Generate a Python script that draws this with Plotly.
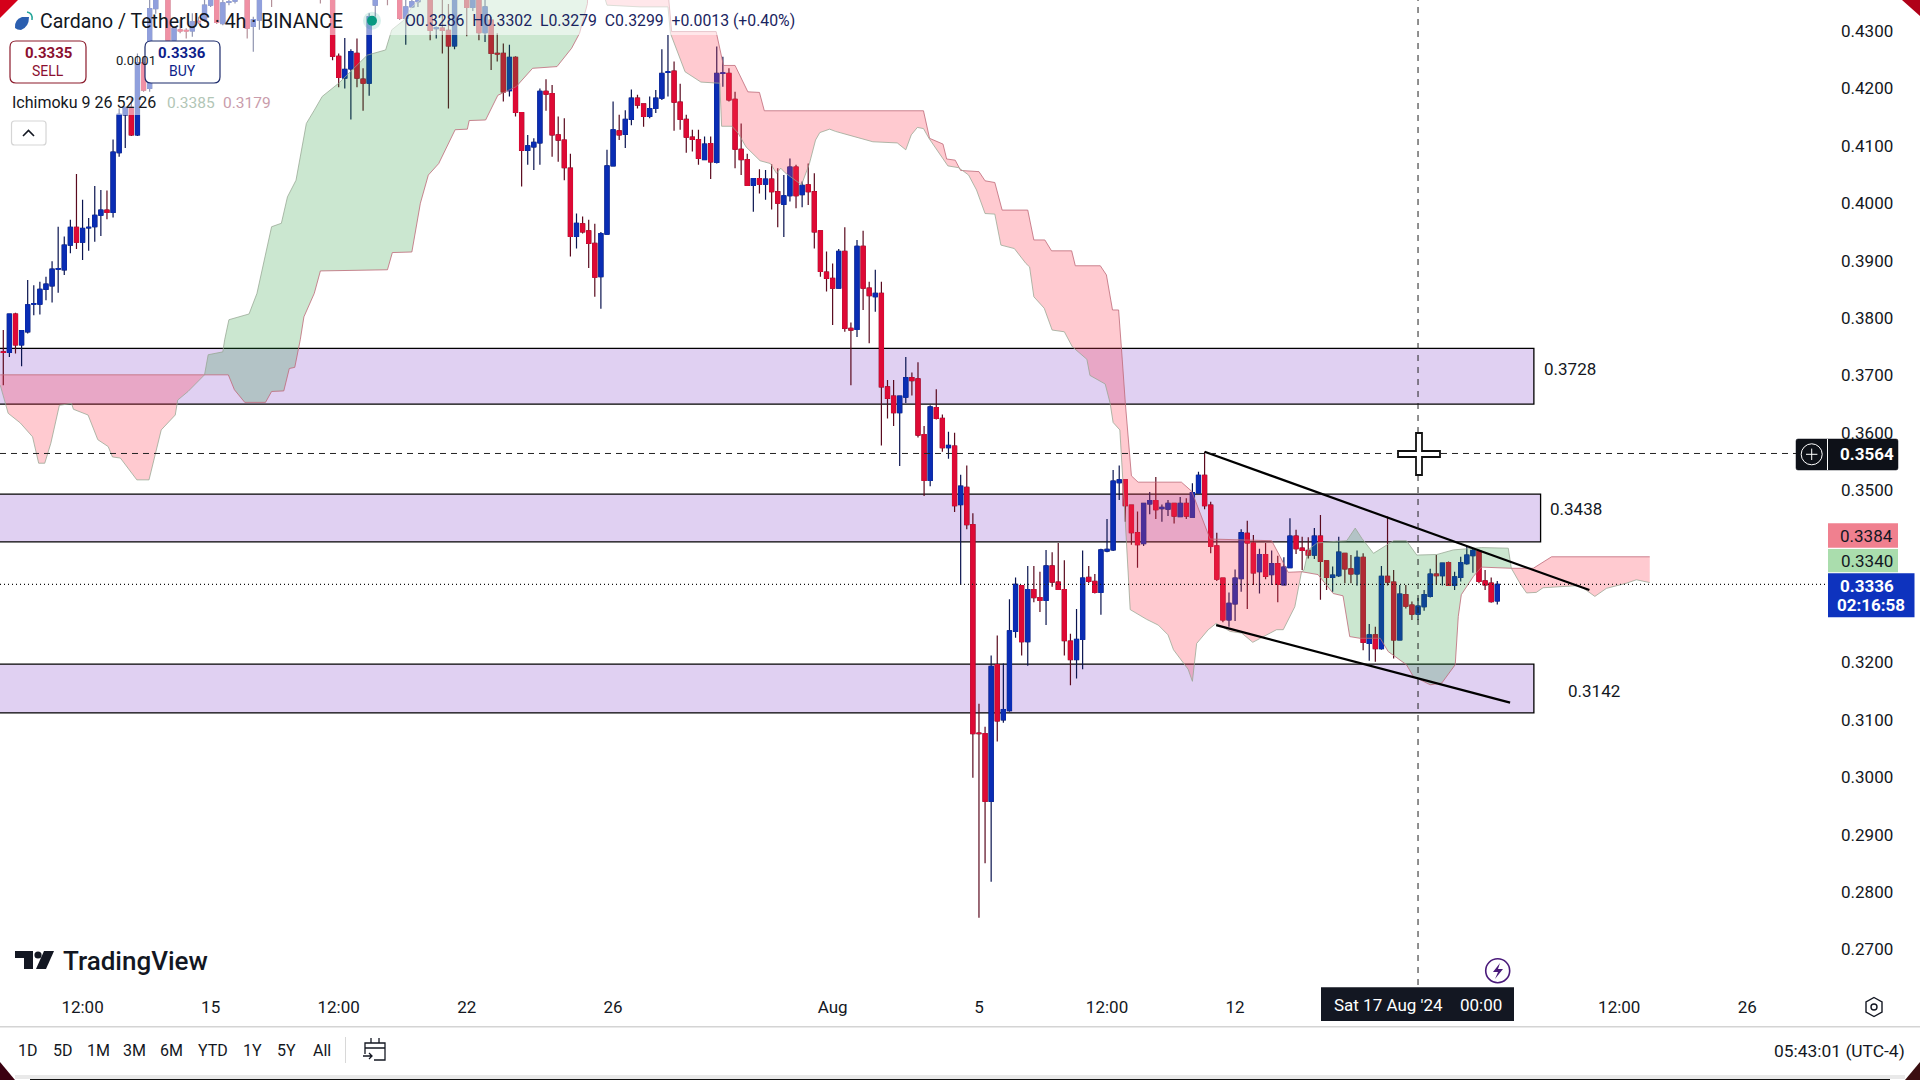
import re
import plotly.graph_objects as go

opens = [.3741,.3740,.3807,.3753,.3776,.3824,.3824,.3850,.3856,.3885,
.3884,.3927,.3958,.3932,.3957,.3959,.3979,.3988,.3984,.4088,
.4154,.4167,.4119,.4245,.4200,.4339,.4410,.4380,.4284,.4302,
.4301,.4300,.4317,.4319,.4345,.4365,.4313,.4350,.4352,.4390,
.4370,.4308,.4319,.4380,.4400,.4390,.4410,.4430,.4415,.4440,
.4425,.4410,.4395,.4380,.4395,.4256,.4218,.4234,.4261,.4216,
.4209,.4345,.4380,.4375,.4375,.4385,.4322,.4342,.4351,.4370,
.4385,.4304,.4305,.4301,.4274,.4375,.4365,.4341,.4365,.4297,
.4319,.4261,.4261,.4196,.4254,.4158,.4092,.4098,.4105,.4195,
.4191,.4119,.4110,.4061,.3942,.3964,.3952,.3930,.3872,.3946,
.4065,.4126,.4120,.4146,.4183,.4173,.4151,.4165,.4183,.4228,
.4230,.4176,.4146,.4115,.4111,.4076,.4104,.4071,.4226,.4226,
.4181,.4094,.4076,.4031,.4043,.4033,.4042,.4020,.3998,.4013,
.4063,.4015,.4032,.4020,.3952,.3880,.3869,.3852,.3916,.3782,
.3780,.3925,.3852,.3837,.3843,.3680,.3664,.3635,.3662,.3696,
.3694,.3597,.3517,.3644,.3625,.3574,.3577,.3475,.3505,.3440,
.3077,.3076,.2958,.3196,.3100,.3116,.3254,.3334,.3236,.3327,
.3313,.3308,.3368,.3340,.3327,.3237,.3205,.3240,.3348,.3341,
.3322,.3394,.3396,.3513,.3518,.3474,.3426,.3407,.3476,.3482,
.3468,.3467,.3477,.3454,.3477,.3453,.3495,.3526,.3474,.3403,
.3347,.3274,.3302,.3346,.3425,.3408,.3358,.3388,.3353,.3372,
.3335,.3365,.3420,.3399,.3395,.3387,.3420,.3377,.3348,.3351,
.3390,.3363,.3354,.3383,.3233,.3248,.3224,.3350,.3340,.3239,
.3318,.3300,.3284,.3297,.3315,.3354,.3351,.3374,.3334,.3348,
.3372,.3386,.3394,.3342,.3338,.3307]

highs = [.3779,.3808,.3809,.3779,.3866,.3857,.3863,.3872,.3899,.3959,
.3942,.3971,.4051,.4006,.3974,.4030,.4023,.4022,.4111,.4165,
.4168,.4183,.4261,.4255,.4360,.4395,.4430,.4400,.4308,.4320,
.4305,.4331,.4325,.4354,.4375,.4380,.4356,.4360,.4365,.4420,
.4390,.4325,.4370,.4410,.4420,.4425,.4440,.4445,.4455,.4460,
.4445,.4425,.4410,.4405,.4410,.4261,.4288,.4268,.4287,.4235,
.4331,.4380,.4400,.4390,.4395,.4395,.4360,.4360,.4370,.4400,
.4400,.4308,.4360,.4347,.4375,.4390,.4375,.4370,.4375,.4360,
.4325,.4296,.4278,.4276,.4256,.4158,.4119,.4113,.4200,.4216,
.4206,.4151,.4148,.4086,.3982,.3977,.3971,.3964,.3950,.4093,
.4177,.4154,.4162,.4198,.4189,.4174,.4186,.4197,.4268,.4293,
.4247,.4208,.4154,.4128,.4128,.4116,.4116,.4273,.4255,.4235,
.4194,.4139,.4086,.4043,.4059,.4058,.4068,.4061,.4049,.4078,
.4067,.4038,.4069,.4052,.3952,.3916,.3895,.3920,.3958,.3792,
.3936,.3952,.3863,.3884,.3863,.3692,.3692,.3665,.3732,.3705,
.3723,.3612,.3648,.3676,.3632,.3602,.3600,.3527,.3543,.3460,
.3128,.3088,.3212,.3247,.3198,.3310,.3348,.3335,.3368,.3368,
.3358,.3396,.3392,.3408,.3378,.3250,.3293,.3395,.3368,.3354,
.3398,.3450,.3535,.3543,.3518,.3474,.3463,.3478,.3497,.3523,
.3475,.3483,.3477,.3488,.3486,.3512,.3532,.3567,.3480,.3426,
.3347,.3322,.3362,.3432,.3447,.3422,.3398,.3408,.3395,.3386,
.3383,.3451,.3431,.3419,.3418,.3434,.3457,.3377,.3367,.3419,
.3391,.3387,.3395,.3390,.3267,.3262,.3368,.3454,.3361,.3335,
.3335,.3306,.3312,.3326,.3363,.3387,.3373,.3376,.3358,.3384,
.3401,.3399,.3394,.3361,.3348,.3342]

lows = [.3683,.3732,.3738,.3716,.3773,.3805,.3806,.3831,.3827,.3844,
.3875,.3913,.3920,.3901,.3917,.3933,.3943,.3972,.3975,.4081,
.4096,.4117,.4117,.4194,.4194,.4330,.4365,.4281,.4279,.4296,
.4287,.4290,.4312,.4316,.4342,.4312,.4310,.4345,.4348,.4370,
.4287,.4264,.4302,.4365,.4342,.4370,.4395,.4400,.4405,.4410,
.4395,.4380,.4348,.4370,.4249,.4202,.4200,.4146,.4202,.4161,
.4187,.4325,.4362,.4345,.4365,.4319,.4276,.4340,.4342,.4360,
.4284,.4287,.4261,.4165,.4268,.4358,.4291,.4335,.4284,.4281,
.4232,.4247,.4177,.4186,.4151,.4029,.4067,.4058,.4067,.4161,
.4081,.4072,.4040,.3907,.3921,.3947,.3887,.3837,.3816,.3945,
.4064,.4110,.4096,.4136,.4165,.4133,.4148,.4157,.4180,.4186,
.4126,.4128,.4088,.4090,.4067,.4075,.4042,.4069,.4203,.4177,
.4061,.4049,.4030,.3985,.4017,.4006,.3989,.3958,.3941,.4003,
.3991,.3993,.3997,.3921,.3872,.3846,.3788,.3852,.3776,.3683,
.3767,.3814,.3756,.3811,.3578,.3625,.3612,.3542,.3652,.3665,
.3592,.3490,.3507,.3623,.3567,.3555,.3462,.3335,.3432,.2999,
.2755,.2850,.2818,.3062,.3095,.3114,.3243,.3212,.3194,.3305,
.3288,.3265,.3332,.3327,.3212,.3160,.3172,.3188,.3338,.3320,
.3283,.3392,.3394,.3483,.3445,.3405,.3365,.3403,.3458,.3450,
.3445,.3455,.3442,.3454,.3450,.3452,.3495,.3467,.3390,.3342,
.3270,.3262,.3272,.3323,.3293,.3335,.3320,.3345,.3335,.3305,
.3334,.3364,.3389,.3361,.3381,.3380,.3309,.3326,.3323,.3349,
.3338,.3338,.3334,.3221,.3203,.3201,.3222,.3334,.3207,.3238,
.3294,.3274,.3274,.3290,.3313,.3335,.3334,.3334,.3326,.3341,
.3370,.3356,.3338,.3326,.3304,.3301]

closes = [.3740,.3807,.3753,.3778,.3823,.3825,.3850,.3859,.3885,.3886,
.3927,.3958,.3932,.3956,.3958,.3979,.3988,.3984,.4089,.4155,
.4167,.4119,.4245,.4197,.4339,.4380,.4380,.4284,.4305,.4300,
.4300,.4316,.4316,.4345,.4360,.4315,.4349,.4351,.4353,.4380,
.4305,.4320,.4360,.4400,.4380,.4410,.4430,.4415,.4440,.4425,
.4410,.4395,.4380,.4395,.4256,.4219,.4233,.4264,.4218,.4209,
.4325,.4365,.4370,.4360,.4385,.4322,.4342,.4351,.4358,.4385,
.4301,.4306,.4301,.4274,.4365,.4365,.4341,.4360,.4297,.4342,
.4261,.4260,.4194,.4254,.4158,.4092,.4100,.4106,.4195,.4190,
.4119,.4110,.4062,.3942,.3965,.3950,.3930,.3871,.3947,.4065,
.4128,.4119,.4146,.4183,.4171,.4151,.4165,.4183,.4226,.4229,
.4176,.4146,.4115,.4111,.4078,.4103,.4072,.4226,.4227,.4180,
.4094,.4076,.4031,.4043,.4033,.4042,.4020,.4000,.4013,.4063,
.4013,.4031,.4020,.3950,.3881,.3869,.3852,.3916,.3782,.3779,
.3925,.3852,.3839,.3843,.3680,.3660,.3635,.3664,.3696,.3691,
.3596,.3517,.3645,.3625,.3574,.3578,.3473,.3507,.3440,.3076,
.3076,.2958,.3193,.3098,.3118,.3255,.3336,.3236,.3327,.3313,
.3308,.3368,.3340,.3327,.3238,.3205,.3240,.3347,.3341,.3322,
.3396,.3397,.3516,.3518,.3473,.3426,.3405,.3477,.3482,.3466,
.3470,.3477,.3455,.3477,.3455,.3496,.3526,.3473,.3402,.3345,
.3274,.3303,.3347,.3426,.3408,.3356,.3388,.3350,.3372,.3336,
.3366,.3420,.3398,.3395,.3387,.3420,.3376,.3348,.3352,.3392,
.3363,.3354,.3383,.3235,.3248,.3224,.3350,.3340,.3239,.3319,
.3298,.3284,.3298,.3318,.3354,.3351,.3373,.3334,.3349,.3374,
.3387,.3395,.3341,.3335,.3306,.3336]

bars = list(range(len(closes)))

tick_bars = [13, 34, 55, 76, 100, 136, 160, 181, 202, 265, 286]
tick_labels = ["12:00", "15", "12:00", "22", "26", "Aug", "5", "12:00", "12", "12:00", "26"]
price_ticks = [.43, .42, .41, .40, .39, .38, .37, .36, .35, .32, .31, .30, .29, .28, .27]

# Ichimoku cloud spans: bar position, price
red1_top_x = [-0.5, 33]
red1_top_y = [.3701, .3701]
red1_low_x = [-0.5,.46,.8,2.8,4.8,5.8,6.8,7.8,9.2,11.2,11.5,13.9,15.5,17.2,17.9,19.2,21.9,23.9,25.9,28.2,28.6,30.3,33]
red1_low_y = [.3683,.3648,.3634,.3617,.3593,.3547,.3547,.3582,.3648,.3651,.3641,.3631,.3588,.3576,.3558,.3556,.3518,.3518,.3605,.3631,.3657,.3672,.3701]

green1_top_x = [33,33.6,36,36.3,37,40.3,41.6,44,45.6,46.6,48,49.7,51,52.3,55,59.7,62.7,63.7,65.7,67,69.7,80,96]
green1_top_y = [.3701,.3736,.3741,.3762,.3797,.3807,.3843,.3959,.3965,.4011,.4040,.4139,.4162,.4186,.4209,.4258,.4267,.4302,.4319,.4342,.4366,.4450,.4450]
green1_low_x = [33,36.9,37.9,39.6,43,44,46,46.9,47.8,48.7,49.3,51,52,63,63.8,67,68.4,69.7,71.4,74.1,76.1,76.4,79.1,81.1,84.1,86.8,90.8,93.2,94.5,95.8,96]
green1_low_y = [.3701,.3701,.3675,.3653,.3653,.3672,.3673,.3712,.3714,.3762,.3802,.3843,.3882,.3884,.3914,.3915,.4000,.4049,.4069,.4128,.4129,.4144,.4145,.4188,.4203,.4235,.4238,.4270,.4296,.4348,.4450]

red2_top_x = [96,98,108,109,109.6,116.9,118.1,120,122.1,124,124.8,150.9,151.9,154.1,154.7,156.1,157,160,161,162.6,163.8,168,169,170.8,171.9,175.2,175.8,179.9,180.9,181.9,182.9,183.5,184,185,186.1,193.2,194.9,197.9,208,209.4,210.7,212.9]
red2_top_y = [.4450,.4450,.4450,.4370,.4299,.4299,.4240,.4240,.4194,.4193,.4161,.4161,.4113,.4103,.4077,.4075,.4057,.4055,.4039,.4036,.3988,.3988,.3936,.3936,.3917,.3917,.3891,.3891,.3875,.3814,.3814,.3727,.3652,.3525,.3514,.3514,.3498,.3415,.3412,.3384,.3357,.3358]
red2_low_x = [96,99,104.4,109,109.4,111.8,114.4,116.5,117.5,117.8,119.5,120.5,121.8,124.1,125.8,126.8,127.5,128.2,130.9,132.2,133.2,133.9,135.5,136.5,138.5,142.6,146.6,148,148.9,149.9,150.9,151.8,154.9,156.6,157.3,158.3,159.6,161,162.6,163.6,165.8,167.7,168.3,169,170.7,172,174,175.3,177.7,178.2,180.7,181.5,182,183.1,184,184.8,187.5,189.4,191,191.9,194.3,195,195.7,197.6,198.9,201.2,203.1,204.9,208.8,209.9,211.8,212.9]
red2_low_y = [.4450,.4345,.4342,.4342,.4296,.4229,.4211,.4209,.4209,.4134,.4134,.4122,.4098,.4074,.4069,.4052,.4061,.4053,.4032,.4069,.4110,.4123,.4129,.4125,.4119,.4107,.4105,.4093,.4119,.4132,.4130,.4113,.4065,.4062,.4057,.4049,.4023,.3982,.3981,.3927,.3921,.3895,.3889,.3837,.3817,.3779,.3776,.3750,.3728,.3700,.3685,.3652,.3618,.3605,.3445,.3292,.3275,.3265,.3248,.3222,.3188,.3167,.3233,.3257,.3268,.3254,.3251,.3235,.3257,.3257,.3297,.3358]

green2_top_x = [212.9,213.3,214,215.4,218.6,220.3,221.7,222.8,224.7,228,230.1,231.8,235.1,237.8,242.4,246.8,247.3]
green2_top_y = [.3358,.3361,.3396,.3408,.3411,.3412,.3434,.3416,.3390,.3412,.3412,.3387,.3388,.3396,.3400,.3399,.3364]
green2_low_x = [212.9,215.6,218.1,219.7,220.8,222.5,225.8,227.1,230.1,231.2,234,235.9,238.1,238.6,239.1,241.1,242.4,247.3]
green2_low_y = [.3358,.3353,.3320,.3316,.3245,.3242,.3242,.3219,.3196,.3176,.3161,.3164,.3196,.3280,.3318,.3350,.3366,.3364]

red3_top_x = [247.3,250.9,253.9,270]
red3_top_y = [.3364,.3364,.3384,.3384]
red3_low_x = [247.3,248.7,249.8,251.4,252.5,258.5,261,262.9,266.2,267.8,270]
red3_low_y = [.3364,.3338,.3321,.3322,.3330,.3334,.3315,.3329,.3338,.3344,.3339]

# Drawn zones: right-hand bar, top price, bottom price, label
zone_right = [251, 252.1, 251]
zone_top = [.3747, .3493, .3197]
zone_bottom = [.3650, .3410, .3112]
zone_labels = ["0.3728", "0.3438", "0.3142"]

# Trend lines
upper_trend_x = [197, 260.1]
upper_trend_y = [.3567, .3326]
lower_trend_x = [198.9, 247.1]
lower_trend_y = [.3265, .3130]

crosshair_bar = 232
crosshair_price = .3564
last_price = .3336

W, H = 1920, 1080
INK = "#131722"
FONT = "Roboto"


def X(p):
    return p / W


def Y(p):
    return 1 - p / H


def P(d):
    """Turn an SVG path written in page pixels into paper coordinates."""
    count = [0]

    def conv(m):
        v = float(m.group(0))
        count[0] += 1
        return f"{X(v):.5f}" if count[0] % 2 else f"{Y(v):.5f}"

    return re.sub(r"-?\d+\.?\d*", conv, d)


def path(d, fill=None, line=None, width=1.0):
    s = dict(type="path", xref="paper", yref="paper", path=P(d), layer="above",
             line=dict(color=line or "rgba(0,0,0,0)", width=width if line else 0))
    if fill:
        s["fillcolor"] = fill
    return s


def rect(x0, y0, x1, y1, fill=None, line=None, width=1.0, opacity=1):
    return dict(type="rect", xref="paper", yref="paper", x0=X(x0), x1=X(x1), y0=Y(y0), y1=Y(y1),
                layer="above", fillcolor=fill or "rgba(0,0,0,0)", opacity=opacity,
                line=dict(color=line or "rgba(0,0,0,0)", width=width if line else 0))


def circle(cx, cy, r, fill=None, line=None, width=1.0):
    return dict(type="circle", xref="paper", yref="paper", x0=X(cx - r), x1=X(cx + r), y0=Y(cy - r), y1=Y(cy + r),
                layer="above", fillcolor=fill or "rgba(0,0,0,0)",
                line=dict(color=line or "rgba(0,0,0,0)", width=width if line else 0))


def round_rect(x0, y0, x1, y1, r, fill, line, width=1.2):
    d = (f"M{x0 + r},{y0} L{x1 - r},{y0} Q{x1},{y0} {x1},{y0 + r} L{x1},{y1 - r} Q{x1},{y1} {x1 - r},{y1} "
         f"L{x0 + r},{y1} Q{x0},{y1} {x0},{y1 - r} L{x0},{y0 + r} Q{x0},{y0} {x0 + r},{y0} Z")
    return path(d, fill=fill, line=line, width=width)


def text(s, x, y, size=17, color=INK, anchor="left", weight="normal", family=FONT):
    return dict(text=s, x=X(x), y=Y(y), xref="paper", yref="paper", xanchor=anchor, yanchor="middle",
                showarrow=False, align=anchor, borderpad=0,
                font=dict(family=family, size=size, color=color, weight=weight))


RED_FILL = "rgba(255,60,80,0.27)"
GREEN_FILL = "rgba(30,150,50,0.23)"
SPAN_A = "rgba(150,165,145,0.75)"
SPAN_B = "rgba(190,105,120,0.8)"

fig = go.Figure()


def cloud(top_x, top_y, low_x, low_y, fill, top_col, low_col):
    fig.add_trace(go.Scatter(x=top_x + low_x[::-1], y=top_y + low_y[::-1], mode="lines", fill="toself",
                             fillcolor=fill, line=dict(width=0), hoverinfo="skip", showlegend=False))
    fig.add_trace(go.Scatter(x=top_x, y=top_y, mode="lines", line=dict(color=top_col, width=1),
                             hoverinfo="skip", showlegend=False))
    fig.add_trace(go.Scatter(x=low_x, y=low_y, mode="lines", line=dict(color=low_col, width=1),
                             hoverinfo="skip", showlegend=False))


cloud(red1_top_x, red1_top_y, red1_low_x, red1_low_y, RED_FILL, SPAN_B, SPAN_A)
cloud(green1_top_x, green1_top_y, green1_low_x, green1_low_y, GREEN_FILL, SPAN_A, SPAN_B)
cloud(red2_top_x, red2_top_y, red2_low_x, red2_low_y, RED_FILL, SPAN_B, SPAN_A)
cloud(green2_top_x, green2_top_y, green2_low_x, green2_low_y, GREEN_FILL, SPAN_A, SPAN_B)
cloud(red3_top_x, red3_top_y, red3_low_x, red3_low_y, RED_FILL, SPAN_B, SPAN_A)

# Wicks in a darker tone, bodies on top in the full colour
UP, DOWN = "#0A2DB4", "#DE0A35"
fig.add_trace(go.Candlestick(x=bars, open=opens, high=highs, low=lows, close=closes, whiskerwidth=0,
                             increasing=dict(line=dict(color="#0A1450", width=1.2), fillcolor=UP),
                             decreasing=dict(line=dict(color="#5A0A1E", width=1.2), fillcolor=DOWN),
                             hoverinfo="skip", showlegend=False))
fig.add_trace(go.Candlestick(x=bars, open=opens, close=closes,
                             high=[max(o, c) for o, c in zip(opens, closes)],
                             low=[min(o, c) for o, c in zip(opens, closes)], whiskerwidth=0,
                             increasing=dict(line=dict(color=UP, width=1), fillcolor=UP),
                             decreasing=dict(line=dict(color=DOWN, width=1), fillcolor=DOWN),
                             hoverinfo="skip", showlegend=False))

fig.add_trace(go.Scatter(x=upper_trend_x, y=upper_trend_y, mode="lines", line=dict(color="#000", width=2.2),
                         hoverinfo="skip", showlegend=False))
fig.add_trace(go.Scatter(x=lower_trend_x, y=lower_trend_y, mode="lines", line=dict(color="#000", width=2.2),
                         hoverinfo="skip", showlegend=False))

shapes = []
annotations = []

# Purple zones sit under everything
for r, t, b in zip(zone_right, zone_top, zone_bottom):
    shapes.append(dict(type="rect", xref="x", yref="y", x0=-5, x1=r, y0=b, y1=t, layer="below",
                       fillcolor="rgb(224,208,242)", line=dict(color="#000", width=1.3)))

# Crosshair and last price lines
shapes.append(dict(type="line", xref="x", yref="paper", x0=crosshair_bar, x1=crosshair_bar, y0=Y(985), y1=1,
                   layer="above", line=dict(color="#222", width=1, dash="6px,6px")))
shapes.append(dict(type="line", xref="paper", yref="y", x0=0, x1=X(1800), y0=crosshair_price, y1=crosshair_price,
                   layer="above", line=dict(color="#222", width=1, dash="6px,5px")))
shapes.append(dict(type="line", xref="paper", yref="y", x0=0, x1=X(1828), y0=last_price, y1=last_price,
                   layer="above", line=dict(color="#111", width=1.2, dash="1px,3px")))

# Legend panels wash out what is beneath them
shapes.append(rect(0, 0, 800, 35, fill="#fff", opacity=0.55))
shapes.append(rect(0, 35, 272, 115, fill="#fff", opacity=0.55))

# Mouse cursor
shapes.append(path("M1416,433 L1422,433 L1422,451 L1440,451 L1440,457 L1422,457 L1422,475 L1416,475 L1416,457 "
                   "L1398,457 L1398,451 L1416,451 Z", fill="#fff", line="#111", width=1.8))

# Window corners
shapes.append(path("M0,0 L18,0 L0,18 Z", fill="#D4001A"))
shapes.append(path("M1902,0 L1920,0 L1920,16 Z", fill="#B00018"))
shapes.append(path("M0,1062 L15,1080 L0,1080 Z", fill="#3A0010"))
shapes.append(path("M1905,1080 L1920,1062 L1920,1080 Z", fill="#3A0E10"))
shapes.append(rect(15, 1075, 1905, 1079, fill="#E9E9E9"))
shapes.append(rect(30, 1079, 1890, 1080, fill="#111"))

# Bottom bar divider and toolbar separator
shapes.append(rect(0, 1026, 1920, 1027.5, fill="#D4D4D4"))
shapes.append(rect(345, 1037, 346, 1063, fill="#D8D8D8"))

# Sell / buy buttons
shapes.append(round_rect(10, 41, 86, 83, 6, "#fff", "#8B1A2B"))
shapes.append(round_rect(145, 41, 220, 83, 6, "#fff", "#1B2A6B"))
annotations += [
    text("0.3335", 48, 53, 15, "#8B1030", "center", "bold"),
    text("SELL", 48, 71, 14, "#8B1030", "center"),
    text("0.3336", 182, 53, 15, "#0E1E8A", "center", "bold"),
    text("BUY", 182, 71, 14, "#0E1E8A", "center"),
    text("0.0001", 115, 61, 13),
]

# Collapse button
shapes.append(round_rect(11.5, 121, 46, 145, 3, "#fff", "#D5D5D5"))
shapes.append(path("M23,136 L28.5,130.5 L34,136", line="#131722", width=1.6))

# Header
shapes.append(path("M15,28 Q14,20 22,17 L29,17 Q29,27 21,30 Q17,30 15,28 Z", fill="#2B5FB0"))
shapes.append(path("M27,12 Q33,13 32,20", line="#26A69A", width=1.5))
shapes.append(circle(372, 20.7, 9, fill="rgba(8,153,129,0.15)"))
shapes.append(circle(372, 20.7, 5, fill="#089981"))
annotations += [
    text("Cardano / TetherUS · 4h · BINANCE", 38.5, 21, 19.5),
    text("O0.3286  H0.3302  L0.3279  C0.3299  +0.0013 (+0.40%)", 404, 20.5, 15.8, "#1A2460"),
    text("Ichimoku 9 26 52 26", 11, 102.7, 16),
    text("0.3385", 166, 102.7, 15.5, "#B2C6B6"),
    text("0.3179", 222, 102.7, 15.5, "#C99CAB"),
]

# Zone labels
annotations += [
    text(zone_labels[0], 1542.5, 369, 17),
    text(zone_labels[1], 1548.5, 508.5, 17),
    text(zone_labels[2], 1566.5, 690.5, 17),
]

# Price badges
shapes.append(round_rect(1796, 439, 1898, 470, 2, "#0E1118", "#0E1118", 0.5))
shapes.append(rect(1827, 439, 1828, 470, fill="#fff"))
shapes.append(circle(1811.7, 454.3, 10.5, line="#fff", width=1))
shapes.append(path("M1806,454.3 L1817.4,454.3 M1811.7,448.6 L1811.7,460", line="#fff", width=1))
annotations.append(text(f"{crosshair_price:.4f}", 1866.5, 454.3, 17, "#fff", "center", "bold"))
shapes.append(rect(1828, 523.3, 1898, 547.7, fill="#F0808F"))
annotations.append(text("0.3384", 1866.5, 536, 17, INK, "center"))
shapes.append(rect(1828, 549, 1898, 572.3, fill="#AADDAD"))
annotations.append(text("0.3340", 1866.5, 561, 17, INK, "center"))
shapes.append(rect(1828, 573.3, 1914.5, 617.3, fill="#0E33BE"))
annotations.append(text(f"{last_price:.4f}", 1866.5, 586, 17, "#fff", "center", "bold"))
annotations.append(text("02:16:58", 1871, 605, 17, "#fff", "center", "bold"))

# Date badge on the crosshair
shapes.append(rect(1321, 987.3, 1514, 1021, fill="#131722"))
annotations.append(text("Sat 17 Aug '24", 1388.5, 1005, 17, "#fff", "center"))
annotations.append(text("00:00", 1480.5, 1005, 17, "#fff", "center"))

# TradingView mark
shapes.append(path("M15,951 L33,951 L33,969 L24,969 L24,958 L15,958 Z", fill="#131722"))
shapes.append(circle(38, 955, 3.6, fill="#131722"))
shapes.append(path("M44,951 L54,951 L46,969 L36,969 Z", fill="#131722"))
annotations.append(text("TradingView", 62, 961, 26, "#131722", "left", 500))

# Lightning and gear icons
shapes.append(circle(1497.7, 970.7, 12, line="#4A1A7A", width=1.6))
shapes.append(path("M1500,963 L1493,972 L1498,972 L1495,979 L1503,969 L1498,969 Z", fill="#4A1A7A"))
shapes.append(path("M1874,997.5 L1882,1002 L1882,1012 L1874,1016.5 L1866,1012 L1866,1002 Z", line="#131722", width=1.4))
shapes.append(circle(1874, 1007, 3, line="#131722", width=1.4))

# Toolbar
for label, cx in zip(["1D", "5D", "1M", "3M", "6M", "YTD", "1Y", "5Y", "All"],
                     [27.5, 62.5, 98, 134.5, 171.5, 212.5, 252.5, 286.5, 321.5]):
    annotations.append(text(label, cx, 1050.5, 16, INK, "center"))
shapes.append(path("M365,1054 L365,1043 L385,1043 L385,1060 L374,1060 M365,1048 L385,1048 M371,1038 L371,1043 "
                   "M379,1038 L379,1043 M363,1056 L372,1056 M369,1053 L372,1056 L369,1059", line="#131722", width=1.3))
annotations.append(text("05:43:01 (UTC-4)", 1906, 1050.5, 17.4, INK, "right"))

fig.update_layout(
    width=W, height=H, autosize=False,
    margin=dict(l=0, r=0, t=0, b=0),
    paper_bgcolor="#fff", plot_bgcolor="#fff",
    showlegend=False, boxmode="overlay", boxgap=0.04,
    shapes=shapes, annotations=annotations,
    hovermode=False,
    font=dict(family=FONT, color=INK),
    xaxis=dict(domain=[0, 1830 / W], range=[-0.54, 299.56], rangeslider=dict(visible=False),
               tickmode="array", tickvals=tick_bars, ticktext=tick_labels, showgrid=False, zeroline=False,
               showline=False, ticks="", ticklabelstandoff=10, tickfont=dict(family=FONT, size=17, color=INK)),
    yaxis=dict(domain=[95 / H, 1], range=[.2638, .4354], side="right", tickmode="array", tickvals=price_ticks,
               tickformat=".4f", showgrid=False, zeroline=False, showline=False, ticks="",
               ticklabelstandoff=10, tickfont=dict(family=FONT, size=17, color=INK)),
)

fig.write_html("out.html", config=dict(displayModeBar=False),
               post_script="document.body.style.margin='0';document.body.style.overflow='hidden';")
